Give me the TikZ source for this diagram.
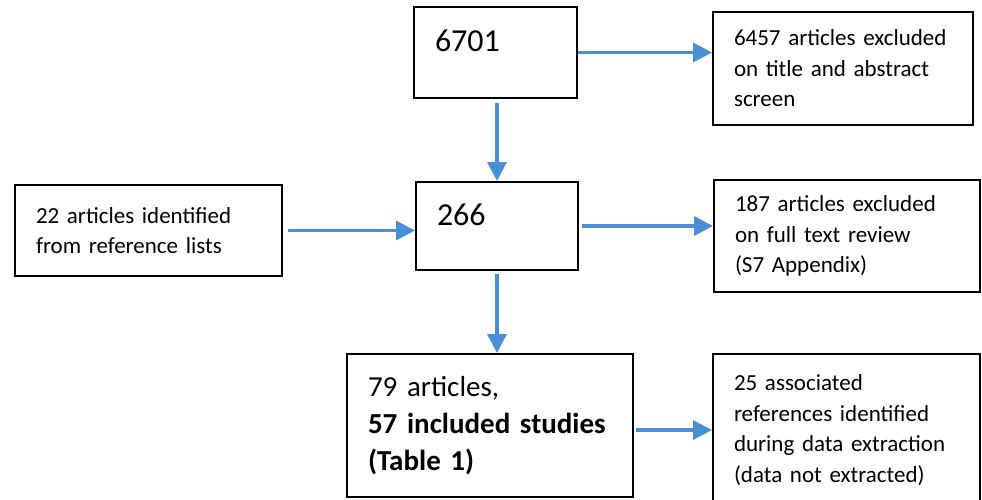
\documentclass[tikz,border=0pt]{standalone}
\usepackage{fontspec}
\setmainfont{Carlito}
\usetikzlibrary{arrows.meta}
\definecolor{arrowblue}{RGB}{74,143,214}

\begin{document}
\begin{tikzpicture}[x=1pt,y=-1pt,
	box/.style={draw=black,line width=2pt,inner xsep=21pt,inner ysep=0pt,align=left},
	small/.style={font=\fontsize{23}{30.5}\selectfont},
	big/.style={font=\fontsize{32}{38}\selectfont,text height=20pt,text depth=22pt},
	flow/.style={draw=arrowblue,line width=3.5pt,-{Triangle[length=19pt,width=19pt]}}]
		
		\useasboundingbox (0,0) rectangle (982,499);
		\clip (0,0) rectangle (982,499);
		
		% middle column
		\node[box,big,minimum width=163pt,text width=121pt,minimum height=91pt] (total) at (495.5,52.5) {6701};
		\node[box,big,minimum width=162pt,text width=120pt,minimum height=88pt] (screened) at (497,226) {266};
		\node[box,font=\fontsize{29}{37}\selectfont,minimum width=286pt,text width=244pt,minimum height=143pt] (incl) at (490,425.5)
			{79 articles,\\\textbf{57 included studies}\\\textbf{(Table 1)}};
		
		% left
		\node[box,small,minimum width=267pt,text width=225pt,minimum height=91pt] (refs) at (148.5,230.5)
			{22 articles identified\\from reference lists};
		
		% right column
		\node[box,small,minimum width=260pt,text width=218pt,minimum height=113pt] (excl1) at (843,68.5)
			{6457 articles excluded\\on title and abstract\\screen};
		\node[box,small,minimum width=266pt,text width=224pt,minimum height=112pt] (excl2) at (847,236)
			{187 articles excluded\\on full text review\\(S7 Appendix)};
		\node[box,small,minimum width=267pt,text width=225pt,minimum height=152pt] (assoc) at (846.5,430)
			{25 associated\\references identified\\during data extraction\\(data not extracted)};
		
		% arrows
		\draw[flow] (total.east) -- (total.east -| excl1.west);
		\draw[flow,shorten <=4pt] (screened.north |- total.south) -- (screened.north);
		\draw[flow,shorten <=5pt] (refs.east) -- (refs.east -| screened.west);
		\draw[flow,shorten <=3pt] (screened.east) -- (screened.east -| excl2.west);
		\draw[flow,shorten <=3pt] (screened.south) -- (screened.south |- incl.north);
		\draw[flow,shorten <=2pt] (incl.east |- assoc.west) -- (assoc.west);
		
\end{tikzpicture}
\end{document}
